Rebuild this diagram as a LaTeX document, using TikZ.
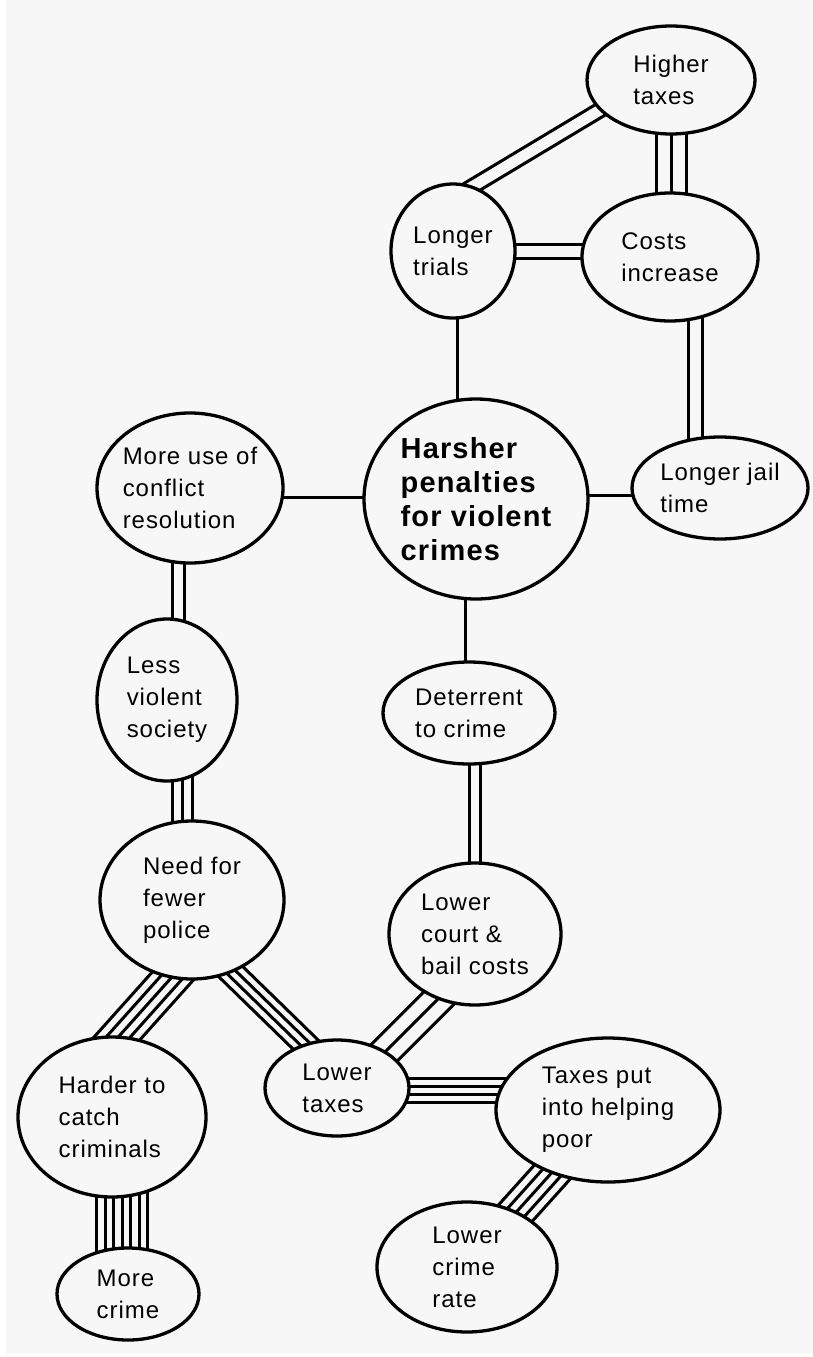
\documentclass[tikz,border=0pt]{standalone}
\usepackage{fontspec}
\setmainfont[LetterSpace=4]{Liberation Sans}
\usetikzlibrary{shapes.geometric,calc,backgrounds}
\definecolor{bgc}{HTML}{F7F7F7}
\newcommand\mybundle[4]{%
  \foreach \k in {1,...,#3}{%
    \pgfmathsetmacro\off{(\k-(#3+1)/2)*#4}%
    \draw[conn] ($(#1)!\off pt!90:(#2)$) -- ($(#2)!\off pt!-90:(#1)$);
  }}
\begin{document}
\begin{tikzpicture}[x=1pt,y=-1pt,
  bub/.style={ellipse,draw,line width=3.3pt,fill=bgc,inner sep=0pt},
  txt/.style={align=left,inner sep=0pt,font=\fontsize{24}{32}\selectfont},
  htxt/.style={align=left,inner sep=0pt,font=\fontsize{29}{34}\selectfont\bfseries},
  conn/.style={line width=3pt}]
\useasboundingbox (0,0) rectangle (813,1357);
% bubbles
\node[bub,minimum width=168,minimum height=108] (higher) at (671,80) {};
\node[bub,minimum width=124,minimum height=134] (trials) at (453,251) {};
\node[bub,minimum width=176,minimum height=128] (costs) at (670,257) {};
\node[bub,minimum width=176,minimum height=102] (jail) at (720,488) {};
\node[bub,minimum width=224,minimum height=200] (harsh) at (476,499) {};
\node[bub,minimum width=186,minimum height=150] (moreuse) at (190,488) {};
\node[bub,minimum width=140,minimum height=162] (lessv) at (167,700) {};
\node[bub,minimum width=184,minimum height=158] (need) at (192,900) {};
\node[bub,minimum width=172,minimum height=102] (deter) at (469,713) {};
\node[bub,minimum width=172,minimum height=142] (court) at (475,934) {};
\node[bub,minimum width=144,minimum height=96] (lowtax) at (337,1088) {};
\node[bub,minimum width=224,minimum height=144] (taxput) at (608,1110) {};
\node[bub,minimum width=188,minimum height=160] (harder) at (112,1117) {};
\node[bub,minimum width=142,minimum height=92] (morecr) at (128,1294) {};
\node[bub,minimum width=180,minimum height=130] (lowcrime) at (467,1267) {};
% texts
\node[txt] (thigher) at (higher) {Higher\\taxes};
\node[txt] (ttrials) at (trials) {Longer\\trials};
\node[txt] (tcosts) at (costs) {Costs\\increase};
\node[txt] (tjail) at (jail) {Longer jail\\time};
\node[htxt] (tharsh) at (harsh) {Harsher\\penalties\\for violent\\crimes};
\node[txt] (tmoreuse) at (moreuse) {More use of\\conflict\\resolution};
\node[txt] (tlessv) at (lessv) {Less\\violent\\society};
\node[txt] (tneed) at (need) {Need for\\fewer\\police};
\node[txt] (tdeter) at (deter) {Deterrent\\to crime};
\node[txt] (tcourt) at (court) {Lower\\court \&\\bail costs};
\node[txt] (tlowtax) at (lowtax) {Lower\\taxes};
\node[txt] (ttaxput) at (taxput) {Taxes put\\into helping\\poor};
\node[txt] (tharder) at (harder) {Harder to\\catch\\criminals};
\node[txt] (tmorecr) at (morecr) {More\\crime};
\node[txt] (tlowcrime) at (lowcrime) {Lower\\crime\\rate};
% anchor coordinates for connectors
\coordinate (c1a) at ($(trials)+(12,-60)$);
\coordinate (c1b) at ($(higher)+(-21,0)$);
\coordinate (c2b) at (trials -| costs);
\coordinate (c3b) at (higher |- costs);
\coordinate (c4a) at ($(costs)+(25,0)$);
\coordinate (c4b) at ($(jail)+(-25,0)$);
\coordinate (c5a) at ($(moreuse)+(-12,0)$);
\coordinate (c5b) at ($(lessv)+(11,0)$);
\coordinate (c6a) at ($(lessv)+(15,0)$);
\coordinate (c6b) at ($(need)+(-10,0)$);
\coordinate (c7a) at ($(deter)+(6,0)$);
\coordinate (c8a) at ($(court)+(-20,48)$);
\coordinate (c8b) at ($(lowtax)+(10,2)$);
\coordinate (c9a) at ($(lowtax)+(0,2)$);
\coordinate (c9b) at ($(taxput)+(0,-20)$);
\coordinate (c11a) at ($(need)+(22,30)$);
\coordinate (c11b) at ($(harder)+(-17,-54)$);
\coordinate (c12a) at ($(need)+(-4,30)$);
\coordinate (c12b) at ($(lowtax)+(5,-8)$);
\coordinate (c13a) at ($(harder)+(10,0)$);
\coordinate (c13b) at ($(morecr)+(-6,0)$);
\begin{pgfonlayer}{background}
\fill[white] (0,0) rectangle (813,1357);
\fill[bgc] (6,0) rectangle (813,1354);
% single connectors
\draw[conn] ($(trials)+(4,0)$) -- ($(trials |- harsh)+(4,0)$);
\draw[conn] ($(harsh)+(0,-4)$) -- ($(harsh -| jail)+(0,-4)$);
\draw[conn] ($(harsh)+(0,-2)$) -- ($(harsh -| moreuse)+(0,-2)$);
\draw[conn] ($(deter)+(-4,0)$) -- ($(deter |- harsh)+(-4,0)$);
% multiple connectors
\mybundle{c1a}{c1b}{2}{14}
\mybundle{trials}{c2b}{2}{14}
\mybundle{higher}{c3b}{3}{15}
\mybundle{c4a}{c4b}{2}{14}
\mybundle{c5a}{c5b}{2}{12}
\mybundle{c6a}{c6b}{3}{10}
\mybundle{c7a}{court}{2}{11}
\mybundle{c8a}{c8b}{3}{15}
\mybundle{c9a}{c9b}{4}{8}
\mybundle{taxput}{lowcrime}{5}{9}
\mybundle{c11a}{c11b}{5}{9}
\mybundle{c12a}{c12b}{4}{8}
\mybundle{c13a}{c13b}{7}{8.5}
\end{pgfonlayer}
\end{tikzpicture}
\end{document}
